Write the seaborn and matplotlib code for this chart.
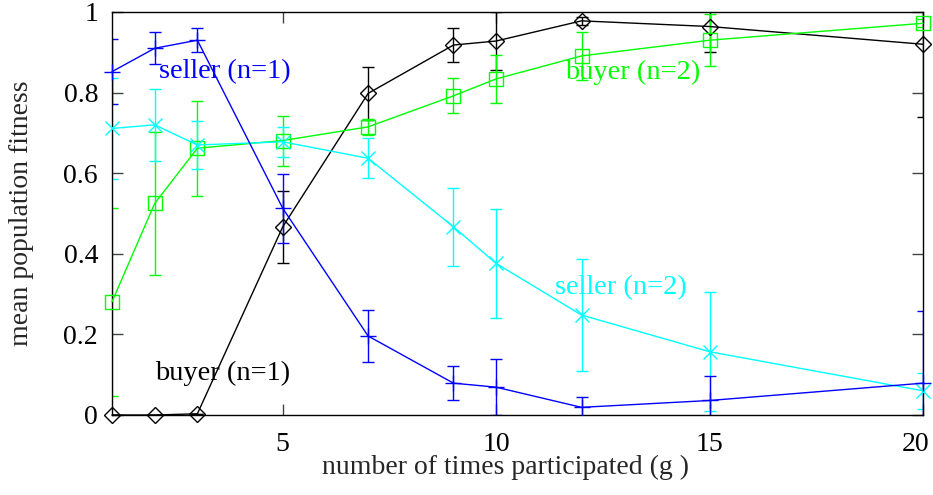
import matplotlib
matplotlib.use("Agg")
import matplotlib.pyplot as plt
import matplotlib.transforms as mtransforms
import seaborn as sns
import pandas as pd

# ---- data ----
g = [1, 2, 3, 5, 7, 9, 10, 12, 15, 20]

buyer1 = [0.0, 0.0, 0.003, 0.467, 0.798, 0.918, 0.928, 0.978, 0.964, 0.92]
buyer1_err = [0.0, 0.0, 0.0, 0.089, 0.065, 0.042, 0.072, 0.01, 0.063, 0.18]

buyer2 = [0.281, 0.525, 0.662, 0.681, 0.715, 0.792, 0.834, 0.891, 0.93, 0.972]
buyer2_err = [0.233, 0.178, 0.118, 0.062, 0.02, 0.043, 0.06, 0.06, 0.064, 0.01]

seller2 = [0.711, 0.72, 0.67, 0.678, 0.637, 0.467, 0.376, 0.248, 0.157, 0.06]
seller2_err = [0.125, 0.09, 0.06, 0.037, 0.05, 0.097, 0.135, 0.139, 0.147, 0.045]

seller1 = [0.852, 0.91, 0.93, 0.513, 0.196, 0.079, 0.069, 0.019, 0.036, 0.079]
seller1_err = [0.08, 0.04, 0.03, 0.086, 0.065, 0.042, 0.07, 0.025, 0.06, 0.18]

x_ticks = [5, 10, 15, 20]
y_ticks = [0, 0.2, 0.4, 0.6, 0.8, 1.0]
y_tick_labels = ["0", "0.2", "0.4", "0.6", "0.8", "1"]

series = [
    ("buyer (n=1)", buyer1, buyer1_err, "#000000", "D", 8.5),
    ("buyer (n=2)", buyer2, buyer2_err, "#00ff00", "s", 10),
    ("seller (n=2)", seller2, seller2_err, "#00ffff", "x", 10),
    ("seller (n=1)", seller1, seller1_err, "#0000ff", "+", 12),
]

label_pos = {
    "seller (n=1)": (2.10, 0.851),
    "buyer (n=2)": (11.61, 0.851),
    "seller (n=2)": (11.38, 0.315),
    "buyer (n=1)": (2.01, 0.104),
}

sns.set_theme(style="ticks")
plt.rcParams["font.family"] = ["Liberation Serif", "DejaVu Serif"]

fig = plt.figure(figsize=(9.33, 4.95), dpi=100)
ax = fig.add_axes([112 / 933, 1 - 415 / 495, (923 - 112) / 933, (415 - 12) / 495])

for name, vals, errs, col, mk, ms in series:
    df = pd.DataFrame({"g": g, "v": vals})
    ax.errorbar(g, vals, yerr=errs, fmt="none", ecolor=col, elinewidth=1.0,
                capsize=4, capthick=1.0, clip_on=True, zorder=2)
    sns.lineplot(data=df, x="g", y="v", ax=ax, color=col, linewidth=1.0,
                 marker=mk, markersize=ms, markerfacecolor="none",
                 markeredgecolor=col, markeredgewidth=1.0, clip_on=False,
                 zorder=3)
    tx, ty = label_pos[name]
    ax.text(tx, ty, name, color=col, fontsize=20.5, ha="left", va="center")

ax.set_xlim(1, 20)
ax.set_ylim(0, 1)
ax.set_xticks(x_ticks)
ax.set_xticklabels([str(t) for t in x_ticks])
ax.set_yticks(y_ticks)
ax.set_yticklabels(y_tick_labels)
ax.tick_params(direction="in", length=8, width=1, colors="#444444",
               labelcolor="black", labelsize=20, top=True, right=True,
               pad=10)
ax.tick_params(axis="x", pad=12)
for s in ax.spines.values():
    s.set_color("black")
    s.set_linewidth(1.0)

# shift the last x tick label slightly left so it stays inside the figure
last = ax.get_xticklabels()[-1]
last.set_transform(last.get_transform() +
                   mtransforms.ScaledTranslation(-7 / 100, 0, fig.dpi_scale_trans))

ax.set_xlabel("number of times participated (g )", fontsize=20, labelpad=-1)
ax.xaxis.label.set_x((506 - 112) / 811)
ax.set_ylabel("mean population fitness", fontsize=20)
ax.yaxis.set_label_coords(-(112 - 34) / 811, 0.5)

fig.savefig("out.png", dpi=100)
